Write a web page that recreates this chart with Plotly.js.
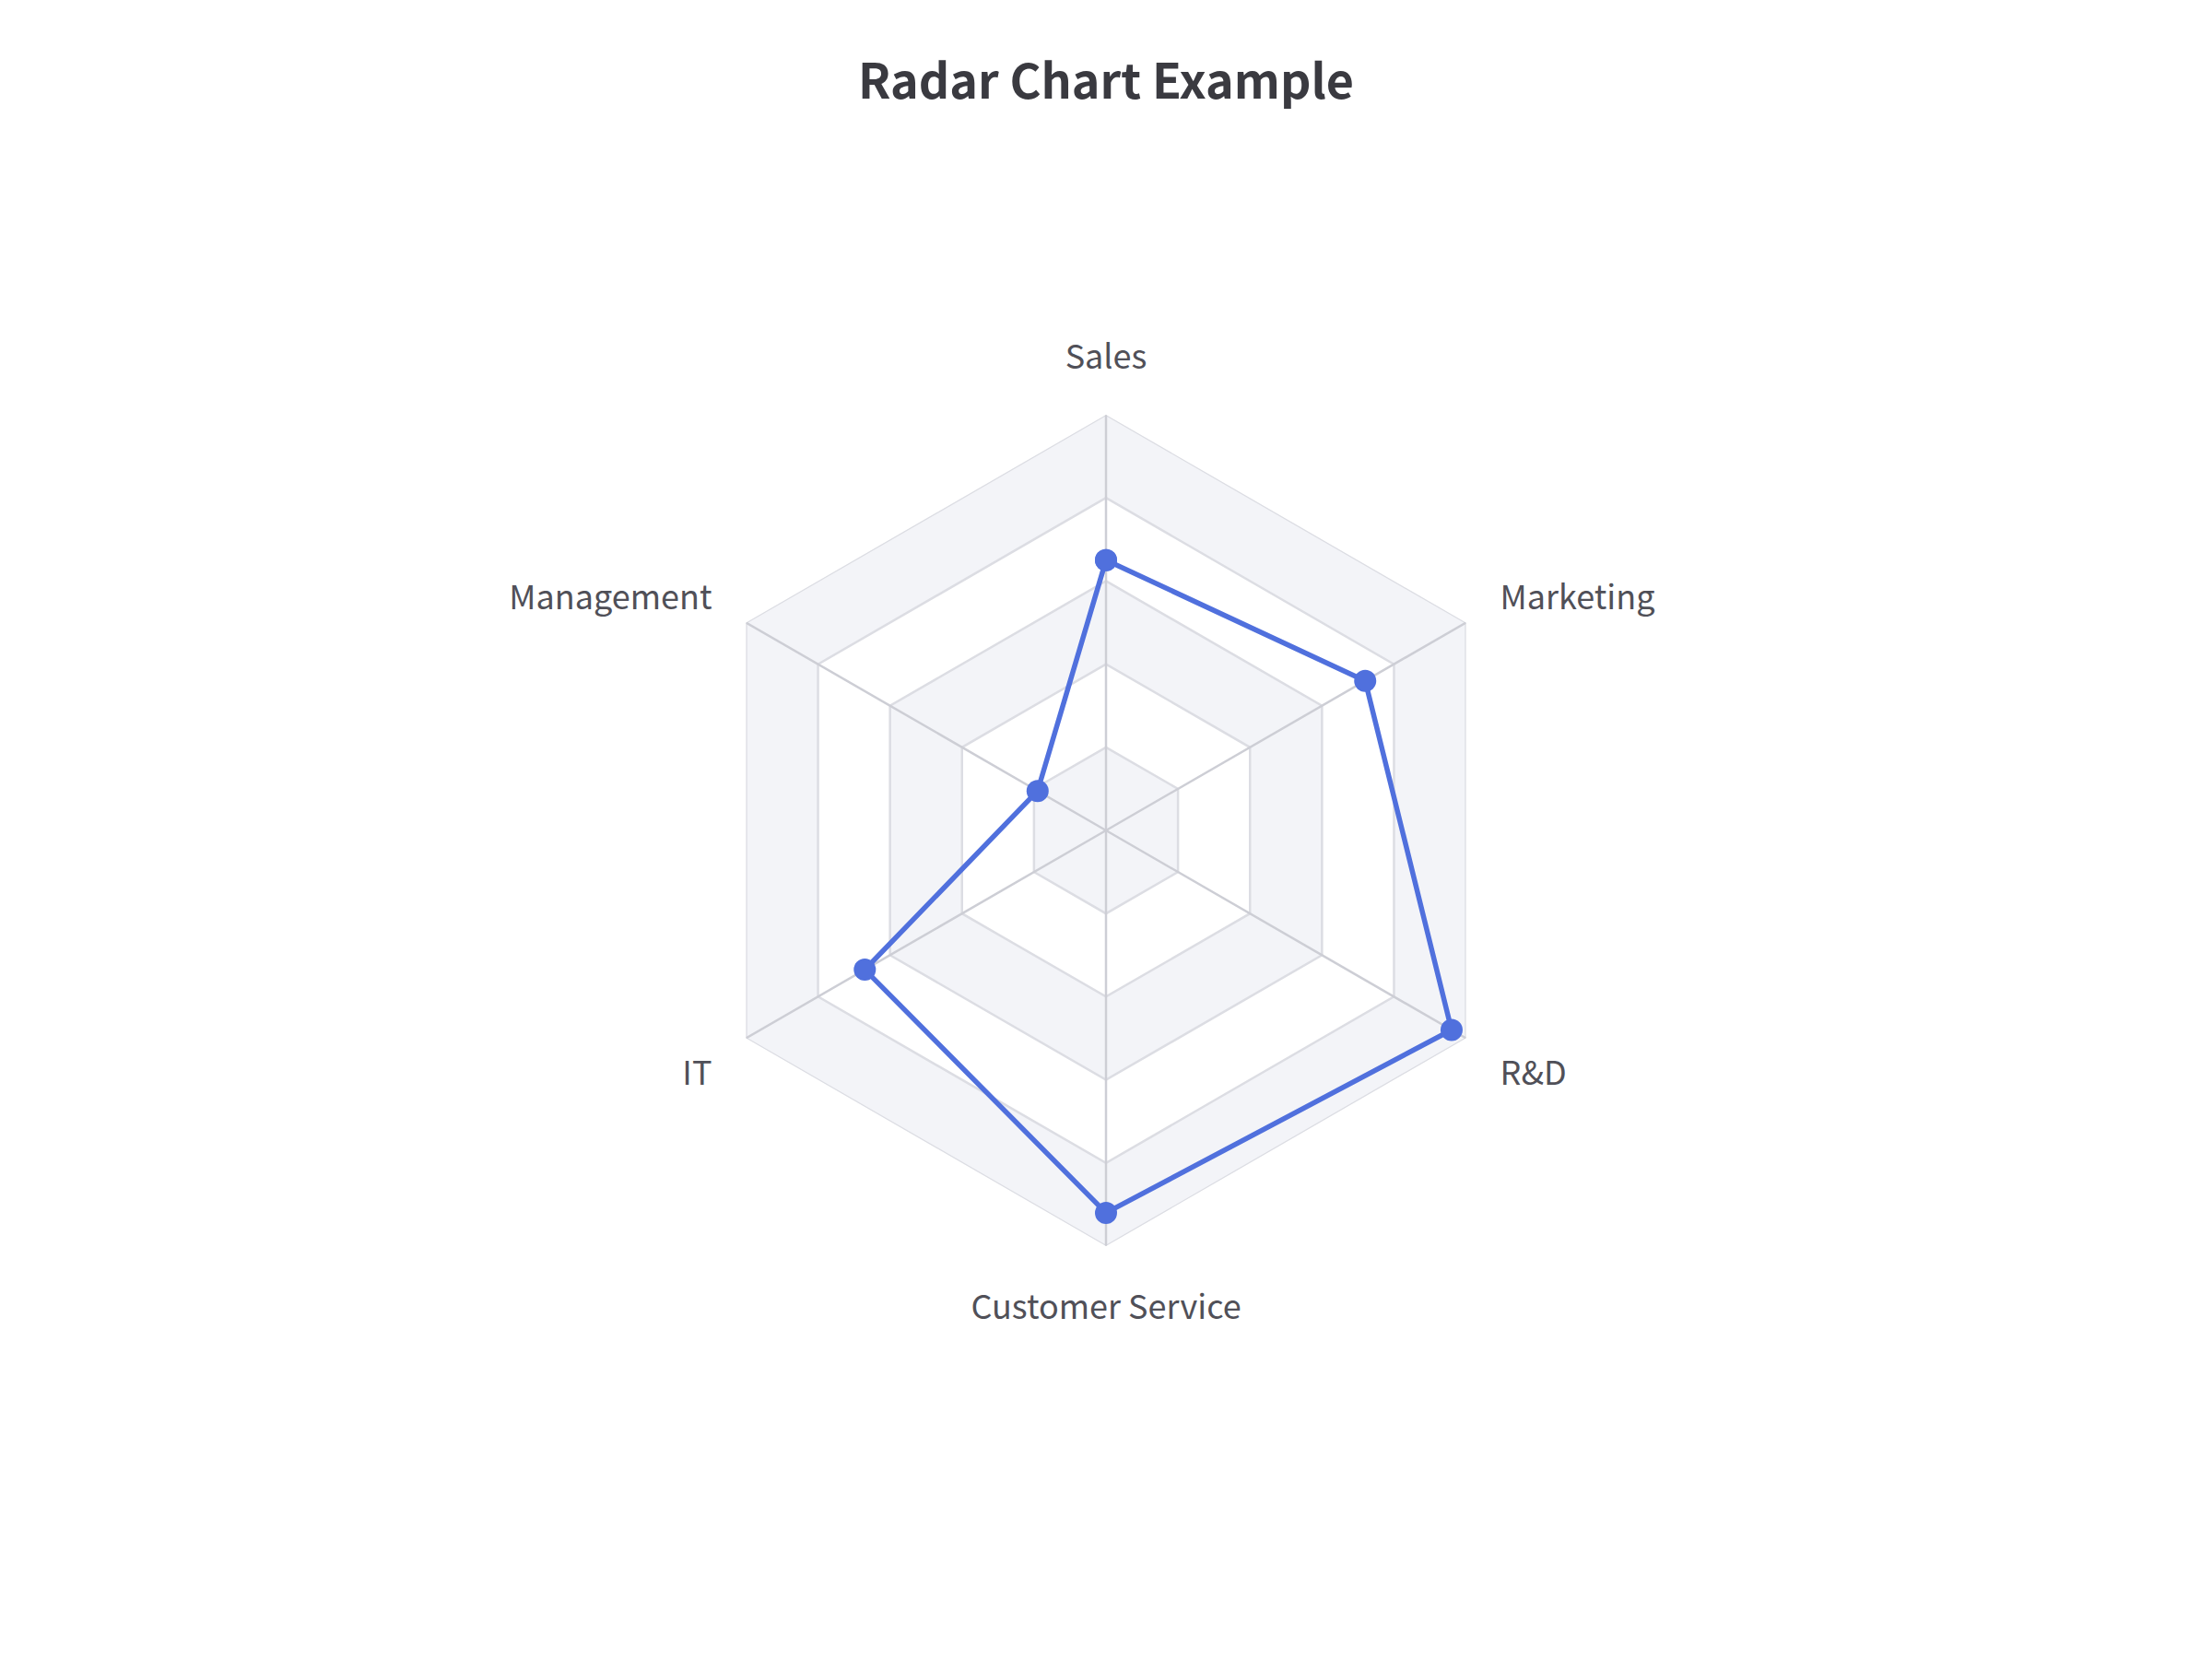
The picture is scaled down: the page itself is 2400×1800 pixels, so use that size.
<!DOCTYPE html>
<html>
<head>
<meta charset="utf-8">
<script src="https://cdn.plot.ly/plotly-3.0.1.min.js"></script>
<style>html,body{margin:0;padding:0;background:#fff;}#chart{width:2400px;height:1800px;}</style>
</head>
<body>
<div id="chart"></div>
<script>
// ---- data ----
const categories = ['Sales', 'Marketing', 'R&D', 'Customer Service', 'IT', 'Management'];
const values = [65, 72, 96, 92, 67, 19];
const ringLevels = [20, 40, 60, 80, 100];
const axisMax = 100;
const chartTitle = 'Radar Chart Example';

// ---- styles ----
const bandColor = '#f3f4f8';
const ringColor = '#dcdde3';
const spokeColor = '#cdced5';
const seriesColor = '#5070dd';
const fontFamily = '"Noto Sans CJK SC", "Noto Sans", sans-serif';

const closedTheta = categories.concat([categories[0]]);
const traces = [];

// alternating split areas, outermost first
for (let i = ringLevels.length - 1; i >= 0; i--) {
  const lvl = ringLevels[i];
  traces.push({
    type: 'scatterpolar', mode: 'lines',
    r: closedTheta.map(() => lvl), theta: closedTheta,
    fill: 'toself', fillcolor: (i % 2 === 0) ? bandColor : '#ffffff',
    line: {width: 0, color: 'rgba(0,0,0,0)'},
    hoverinfo: 'skip', showlegend: false
  });
}
// ring lines
ringLevels.forEach(lvl => {
  traces.push({
    type: 'scatterpolar', mode: 'lines',
    r: closedTheta.map(() => lvl), theta: closedTheta,
    line: {width: 2.5, color: ringColor},
    hoverinfo: 'skip', showlegend: false
  });
});
// spokes
categories.forEach(c => {
  traces.push({
    type: 'scatterpolar', mode: 'lines',
    r: [0, axisMax], theta: [c, c],
    line: {width: 2.5, color: spokeColor},
    hoverinfo: 'skip', showlegend: false
  });
});
// series
traces.push({
  type: 'scatterpolar', mode: 'lines+markers',
  r: values.concat([values[0]]), theta: closedTheta,
  line: {width: 5.5, color: seriesColor},
  marker: {size: 24, color: seriesColor},
  showlegend: false
});

const layout = {
  width: 2400, height: 1800,
  margin: {l: 0, r: 0, t: 0, b: 0},
  paper_bgcolor: '#ffffff',
  showlegend: false,
  title: {
    text: chartTitle,
    x: 0.5, xanchor: 'center', y: 1 - 89 / 1800, yanchor: 'middle',
    font: {family: fontFamily, size: 52, weight: 600, color: '#3a3a40'}
  },
  polar: {
    domain: {x: [749 / 2400, 1651 / 2400], y: [448 / 1800, 1350 / 1800]},
    bgcolor: '#ffffff',
    gridshape: 'linear',
    radialaxis: {visible: false, range: [0, axisMax], showgrid: false},
    angularaxis: {
      direction: 'clockwise', rotation: 90,
      showgrid: false, showline: false,
      ticks: 'outside', ticklen: 35, tickcolor: 'rgba(0,0,0,0)',
      tickfont: {family: fontFamily, size: 36, color: '#505058'}
    }
  }
};

Plotly.newPlot('chart', traces, layout, {displayModeBar: false, staticPlot: true});
</script>
</body>
</html>
